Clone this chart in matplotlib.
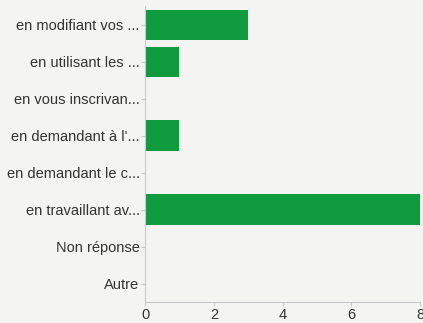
import matplotlib
matplotlib.use("Agg")
import matplotlib.pyplot as plt

plt.rcParams['font.family'] = ['Liberation Sans', 'DejaVu Sans']

# Réponses (libellés tronqués comme dans l'export)
categories = [
    "en modifiant vos ...",
    "en utilisant les ...",
    "en vous inscrivan...",
    "en demandant à l'...",
    "en demandant le c...",
    "en travaillant av...",
    "Non réponse",
    "Autre",
]
counts = [3, 1, 0, 1, 0, 8, 0, 0]
xticks = [0, 2, 4, 6, 8]

bg = '#f4f4f2'
fig = plt.figure(figsize=(4.23, 3.23), dpi=100, facecolor=bg)
ax = fig.add_axes([0.343, 0.065, 0.650, 0.915], facecolor=bg)

pos = range(len(categories))
ax.barh(pos, counts, height=0.83, color='#0f9a3e')
ax.set_yticks(list(pos))
ax.set_yticklabels(categories, fontsize=10.5, color='#333333')
ax.set_ylim(len(categories) - 0.5, -0.5)
ax.set_xlim(0, 8)
ax.set_xticks(xticks)
ax.set_xticklabels([str(t) for t in xticks], fontsize=10.5, color='#333333')

for side in ['top', 'right']:
    ax.spines[side].set_visible(False)
for side in ['left', 'bottom']:
    ax.spines[side].set_color('#c8c8cc')
    ax.spines[side].set_linewidth(0.8)
ax.tick_params(axis='y', length=3, color='#c8c8cc', pad=1)
ax.tick_params(axis='x', length=3, color='#c8c8cc', pad=1)

fig.savefig('out.png', dpi=100, facecolor=bg)
